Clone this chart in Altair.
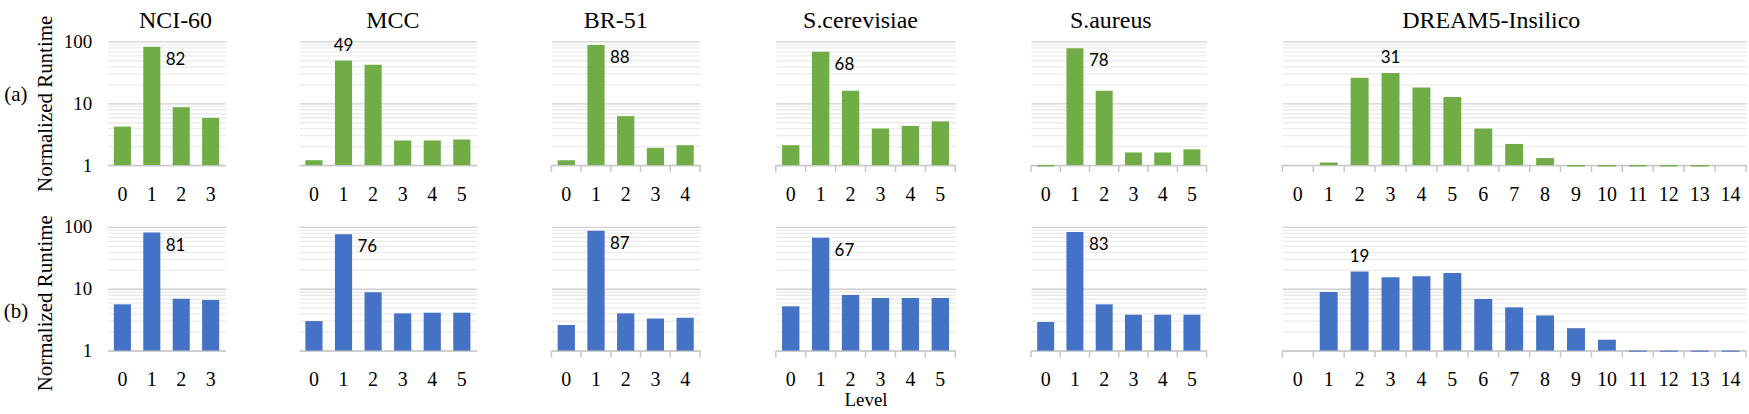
import altair as alt
import pandas as pd

SERIF = "Liberation Serif"
SANS = "Lato"
GREEN = "#70AD47"
BLUE = "#4472C4"

datasets = ["NCI-60", "MCC", "BR-51", "S.cerevisiae", "S.aureus", "DREAM5-Insilico"]
row_labels = ["(a)", "(b)"]
y_title = "Normalized Runtime"
x_title = "Level"

nci60_levels = [0, 1, 2, 3]
nci60_a = [4.2, 82, 8.6, 5.8]
nci60_b = [5.6, 81, 6.9, 6.6]

mcc_levels = [0, 1, 2, 3, 4, 5]
mcc_a = [1.2, 49, 42, 2.5, 2.5, 2.6]
mcc_b = [3.0, 76, 8.8, 4.0, 4.1, 4.1]

br51_levels = [0, 1, 2, 3, 4]
br51_a = [1.2, 88, 6.2, 1.9, 2.1]
br51_b = [2.6, 87, 4.0, 3.3, 3.4]

scer_levels = [0, 1, 2, 3, 4, 5]
scer_a = [2.1, 68, 16, 3.9, 4.3, 5.1]
scer_b = [5.2, 67, 7.9, 7.1, 7.1, 7.1]

saur_levels = [0, 1, 2, 3, 4, 5]
saur_a = [0.95, 78, 16, 1.6, 1.6, 1.8]
saur_b = [2.9, 83, 5.6, 3.8, 3.8, 3.8]

dream_levels = [0, 1, 2, 3, 4, 5, 6, 7, 8, 9, 10, 11, 12, 13, 14]
dream_a = [None, 1.1, 26, 31, 18, 12.6, 3.9, 2.2, 1.3, 0.95, 0.95, 0.95, 0.95, 0.95, None]
dream_b = [None, 8.9, 19, 15.3, 16, 18, 6.8, 5.0, 3.7, 2.3, 1.5, 0.96, 0.96, 0.96, 0.96]

# annotated (peak) bar per panel and where its label sits
label_level_a = [1, 1, 1, 1, 1, 3]
label_level_b = [1, 1, 1, 1, 1, 2]
label_side_a = ["right", "above", "right", "right", "right", "above"]
label_side_b = ["right", "right", "right", "right", "right", "above"]

grid_values = [1, 2, 3, 4, 5, 6, 7, 8, 9, 10, 20, 30, 40, 50, 60, 70, 80, 90, 100]

LEVELS = [nci60_levels, mcc_levels, br51_levels, scer_levels, saur_levels, dream_levels]
VALUES = [[nci60_a, mcc_a, br51_a, scer_a, saur_a, dream_a],
          [nci60_b, mcc_b, br51_b, scer_b, saur_b, dream_b]]
LABEL_LEVEL = [label_level_a, label_level_b]
LABEL_SIDE = [label_side_a, label_side_b]
COLORS = [GREEN, BLUE]

WIDTHS = [118, 178, 149, 180, 176, 465]
TITLE_DX = [9, 5, -10, -5, -8, -23]
HEIGHT = 124
SHOW_TICKS = [False, False, True, True, True, True]


def panel(i, row):
    levels = LEVELS[i]
    df = pd.DataFrame({"level": levels, "runtime": VALUES[row][i]})
    w = WIDTHS[i]
    first = i == 0

    xscale = alt.Scale(domain=levels, paddingInner=0, paddingOuter=0)
    x_axis = alt.Axis(
        title=x_title if (row == 1 and i == 3) else None,
        labelAngle=0, labelFont=SERIF, labelFontSize=20, labelColor="black",
        labelPadding=19, ticks=False, domainColor="#c8c8c8", domainWidth=1.5,
        grid=False, titleFont=SERIF, titleFontSize=19, titleFontWeight="normal",
        titleColor="black", titlePadding=1,
    )
    yscale = alt.Scale(type="log", domain=[1, 100], nice=False)
    y_kw = dict(
        values=grid_values, grid=True, domain=False, ticks=False,
        gridColor={"condition": {"test": "indexof([1,10,100], datum.value) >= 0",
                                 "value": "#d0d0d0"}, "value": "#ebebeb"},
        gridWidth=1.3,
    )
    if first:
        y_axis = alt.Axis(
            labels=True,
            labelExpr="indexof([1,10,100], datum.value) >= 0 ? '' + datum.value : ''",
            labelFont=SERIF, labelFontSize=19, labelColor="black", labelPadding=16,
            title=y_title, titleFont=SERIF, titleFontSize=21, titleFontWeight="normal",
            titleColor="black", titlePadding=8,
            titleY=62 if row == 0 else 76,
            **y_kw,
        )
    else:
        y_axis = alt.Axis(labels=False, title=None, **y_kw)

    X = alt.X("level:O", scale=xscale, axis=x_axis)
    Y = alt.Y("runtime:Q", scale=yscale, axis=y_axis)

    bars = alt.Chart(df).mark_bar(
        color=COLORS[row], width=alt.RelativeBandSize(0.58)
    ).encode(x=X, y=Y, y2=alt.datum(1))

    layers = [bars]

    side = LABEL_SIDE[row][i]
    if side == "right":
        tm = alt.Chart(df).mark_text(font=SANS, fontSize=17, align="left",
                                     baseline="top", dx=14, dy=5, color="black")
    else:
        tm = alt.Chart(df).mark_text(font=SANS, fontSize=17, align="center",
                                     baseline="bottom", dy=-6, color="black")
    lab = tm.transform_filter(alt.datum.level == LABEL_LEVEL[row][i]).encode(
        x=X, y=Y, text=alt.Text("runtime:Q", format=".0f"))
    layers.append(lab)

    if SHOW_TICKS[i]:
        tk = alt.Chart(df).mark_rule(color="#c8c8c8", strokeWidth=1.5).encode(
            x=alt.X("level:O", scale=xscale, axis=x_axis, bandPosition=0),
            y=alt.value(HEIGHT), y2=alt.value(HEIGHT + 7))
        tk_end = alt.Chart(pd.DataFrame({"level": [levels[-1]]})).mark_rule(
            color="#c8c8c8", strokeWidth=1.5).encode(
            x=alt.value(w), y=alt.value(HEIGHT), y2=alt.value(HEIGHT + 7))
        layers += [tk, tk_end]

    if first:
        rl = alt.Chart(pd.DataFrame({"t": [row_labels[row]]})).mark_text(
            font=SERIF, fontSize=21, align="center", baseline="middle", color="black"
        ).encode(x=alt.value(-92), y=alt.value(54 if row == 0 else 85), text="t:N")
        layers.append(rl)

    if row == 0:
        tt = alt.Chart(pd.DataFrame({"t": [datasets[i]]})).mark_text(
            font=SERIF, fontSize=24, fontWeight="normal", align="center",
            baseline="alphabetic", color="black"
        ).encode(x=alt.value(w / 2 + TITLE_DX[i]), y=alt.value(-14), text="t:N")
        layers.append(tt)

    return alt.layer(*layers).properties(width=w, height=HEIGHT)


row1 = alt.hconcat(*[panel(i, 0) for i in range(6)], spacing=74)
row2 = alt.hconcat(*[panel(i, 1) for i in range(6)], spacing=74)

chart = alt.vconcat(row1, row2, spacing=10).properties(
    padding={"left": 3, "top": 8, "right": 2, "bottom": 0},
    background="white",
).configure_view(stroke=None)

chart.save("out.html", embed_options={"renderer": "svg", "actions": False})
